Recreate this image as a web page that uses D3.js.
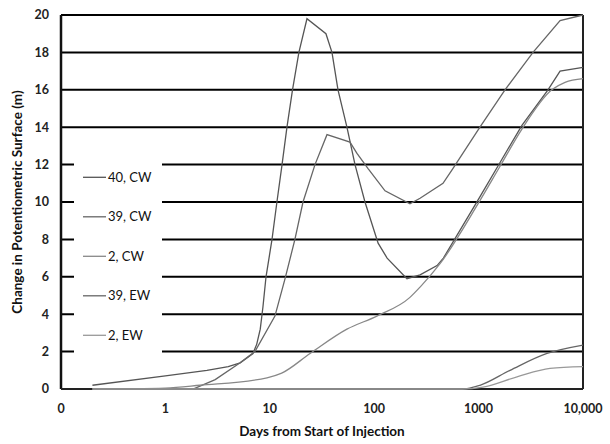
<!DOCTYPE html>
<meta charset="utf-8">
<style>

body {
  margin: 0;
  background: #fff;
}

svg {
  font-family: Lato, "Open Sans", sans-serif;
}

.grid line {
  stroke: #000;
  stroke-width: 2;
}

.tick-label {
  font-size: 12.5px;
  font-weight: bold;
  fill: #222;
}

.axis-title {
  font-size: 13.5px;
  font-weight: bold;
  fill: #111;
}

.series {
  fill: none;
  stroke-width: 1.3;
}

.legend text {
  font-size: 13px;
  fill: #111;
}

</style>
<svg width="610" height="444"></svg>
<script src="https://d3js.org/d3.v7.min.js"></script>
<script>

// series: days since start of injection, change in head (m)
var names = ["40, CW", "39, CW", "2, CW", "39, EW", "2, EW"];

var days40cw = [0.2, 1, 2.5, 4, 5.2, 6.9, 7.5, 8.1, 8.6, 9.2, 10.5, 11.7, 13.1, 14.6, 16.5, 19, 22.7, 34.5, 39.4, 45, 54.8, 65.5, 81.6, 109, 133, 206, 275, 400, 460, 986, 1600, 2600, 4620, 6030, 10000];
var head40cw = [0.2, 0.7, 1.0, 1.2, 1.4, 1.9, 2.4, 3.2, 4.4, 6, 8, 10, 12, 14, 16, 18, 19.8, 19.0, 18, 16, 14, 12, 10, 7.8, 7.0, 5.9, 6.1, 6.6, 7.0, 10.1, 12.1, 14.1, 16.0, 17.0, 17.2];

var days39cw = [0.2, 1.84, 3, 5.2, 7.2, 11.2, 14, 17.4, 20.8, 27.1, 35.3, 58.6, 68.4, 87, 127, 220, 275, 456, 569, 1030, 1790, 3320, 6030, 10000];
var head39cw = [0, 0, 0.5, 1.4, 2.0, 3.9, 5.9, 8, 10, 12, 13.6, 13.2, 12.6, 11.8, 10.6, 9.9, 10.2, 11.0, 11.8, 14, 16, 18, 19.7, 20];

var days2cw = [0.2, 1, 2.14, 9.4, 13, 24.3, 54.8, 106, 220, 275, 427, 986, 1600, 2600, 5020, 6730, 10000];
var head2cw = [0, 0.05, 0.2, 0.6, 0.85, 1.9, 3.2, 3.9, 4.9, 5.45, 6.7, 9.9, 11.9, 13.9, 16.0, 16.4, 16.6];

var days39ew = [0.2, 700, 1030, 2000, 4520, 10000];
var head39ew = [0, 0, 0.2, 1.0, 1.9, 2.35];

var days2ew = [0.2, 700, 1100, 2333, 4830, 10000];
var head2ew = [0, 0, 0.1, 0.65, 1.1, 1.2];

var xTicks = [0.1, 1, 10, 100, 1000, 10000];
var xTickLabels = ["0", "1", "10", "100", "1000", "10,000"];
var yTicks = [0, 2, 4, 6, 8, 10, 12, 14, 16, 18, 20];

var colors = ["#555", "#666", "#888", "#666", "#999"];

var svg = d3.select("svg"),
    margin = {top: 15, right: 27, bottom: 55, left: 61},
    width = +svg.attr("width") - margin.left - margin.right,
    height = +svg.attr("height") - margin.top - margin.bottom;

var x = d3.scaleLog()
    .domain([0.1, 10000])
    .range([0, width]);

var y = d3.scaleLinear()
    .domain([0, 20])
    .range([height, 0]);

var g = svg.append("g")
    .attr("transform", "translate(" + margin.left + "," + margin.top + ")");

// horizontal grid lines
g.append("g")
    .attr("class", "grid")
  .selectAll("line")
  .data(yTicks.filter(function(d) { return d > 0; }))
  .enter().append("line")
    .attr("x1", 0)
    .attr("x2", width)
    .attr("y1", function(d) { return y(d); })
    .attr("y2", function(d) { return y(d); });

// frame: left axis, bottom axis, right edge
g.append("line")
    .attr("x1", 0).attr("x2", 0)
    .attr("y1", 0).attr("y2", height)
    .attr("stroke", "#111").attr("stroke-width", 2.5);

g.append("line")
    .attr("x1", 0).attr("x2", width)
    .attr("y1", height).attr("y2", height)
    .attr("stroke", "#222").attr("stroke-width", 2);

g.append("line")
    .attr("x1", width).attr("x2", width)
    .attr("y1", 0).attr("y2", height)
    .attr("stroke", "#222").attr("stroke-width", 2);

// y tick labels
g.append("g")
  .selectAll("text")
  .data(yTicks)
  .enter().append("text")
    .attr("class", "tick-label")
    .attr("x", -12)
    .attr("y", function(d) { return y(d); })
    .attr("dy", "0.35em")
    .attr("text-anchor", "end")
    .text(function(d) { return d; });

// x tick labels
g.append("g")
  .selectAll("text")
  .data(xTicks)
  .enter().append("text")
    .attr("class", "tick-label")
    .attr("x", function(d) { return x(d); })
    .attr("y", height + 24)
    .attr("text-anchor", "middle")
    .text(function(d, i) { return xTickLabels[i]; });

// axis titles
svg.append("text")
    .attr("class", "axis-title")
    .attr("transform", "translate(22," + (margin.top + height / 2) + ") rotate(-90)")
    .attr("text-anchor", "middle")
    .text("Change in Potentiometric Surface (m)");

svg.append("text")
    .attr("class", "axis-title")
    .attr("x", margin.left + width / 2)
    .attr("y", margin.top + height + 47)
    .attr("text-anchor", "middle")
    .text("Days from Start of Injection");

// legend box hides the grid behind it
var legend = g.append("g")
    .attr("class", "legend");

legend.append("rect")
    .attr("x", 13)
    .attr("y", y(12) - 5)
    .attr("width", 88)
    .attr("height", y(2) - y(12) + 8)
    .attr("fill", "#fff");

var series = [
  [days40cw, head40cw],
  [days39cw, head39cw],
  [days2cw, head2cw],
  [days39ew, head39ew],
  [days2ew, head2ew]
];

// the two peaked curves are drawn with straight segments, the rest smoothed
var sharp = d3.line()
    .x(function(d) { return x(d[0]); })
    .y(function(d) { return y(d[1]); });

var smooth = d3.line()
    .curve(d3.curveMonotoneX)
    .x(function(d) { return x(d[0]); })
    .y(function(d) { return y(d[1]); });

g.append("g")
  .selectAll("path")
  .data(series)
  .enter().append("path")
    .attr("class", "series")
    .attr("stroke", function(d, i) { return colors[i]; })
    .attr("d", function(d, i) { return (i < 2 ? sharp : smooth)(d3.zip(d[0], d[1])); });

var item = legend.selectAll(".item")
  .data(names)
  .enter().append("g")
    .attr("class", "item")
    .attr("transform", function(d, i) { return "translate(22," + (y(11) - 6 + i * 39.5) + ")"; });

item.append("line")
    .attr("x1", 0)
    .attr("x2", 23)
    .attr("stroke", function(d, i) { return colors[i]; })
    .attr("stroke-width", 1.3);

item.append("text")
    .attr("x", 25)
    .attr("dy", "0.35em")
    .text(function(d) { return d; });

</script>
